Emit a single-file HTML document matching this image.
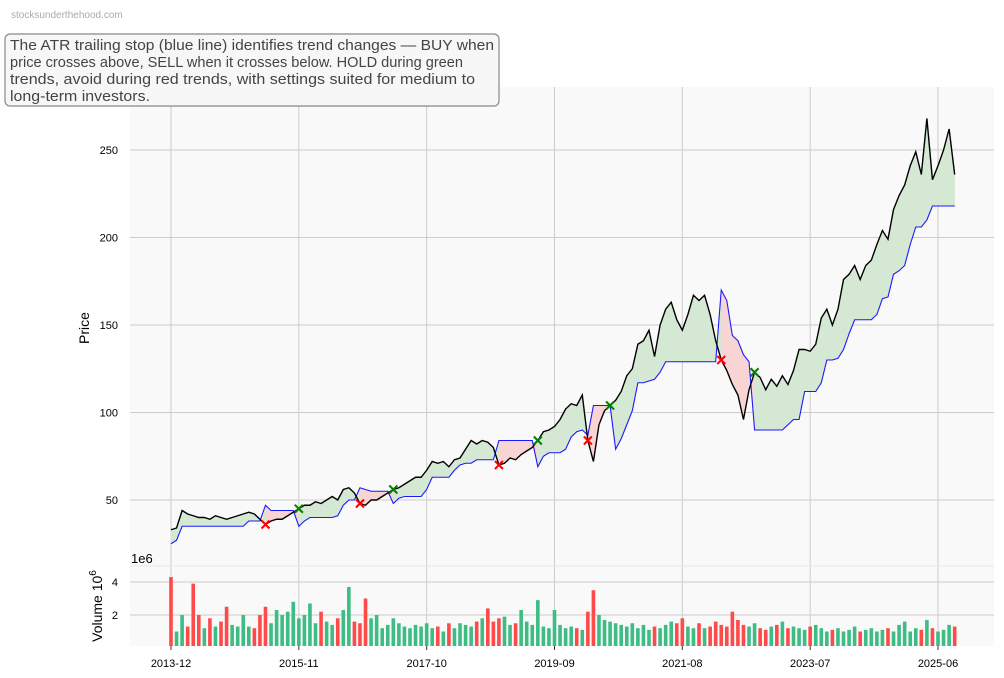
<!DOCTYPE html>
<html><head><meta charset="utf-8"><style>
body{margin:0;background:#fff;}
svg{display:block;font-family:"Liberation Sans","DejaVu Sans",sans-serif;}
</style></head><body>
<svg id="c" width="1004" height="678" viewBox="0 0 1004 678">
<text x="11" y="18" font-size="10" fill="#aaa">stocksunderthehood.com</text>
<rect x="130" y="87" width="864" height="479" fill="#f9f9f9"/>
<rect x="130" y="566" width="864" height="80" fill="#f9f9f9"/>
<g id="grid"></g><g id="fills"></g><g id="lines"></g><g id="marks"></g><g id="vol"></g><g id="axes"></g>
<text transform="translate(89,328) rotate(-90)" font-size="14" text-anchor="middle" fill="#000">Price</text>
<text transform="translate(102,606) rotate(-90)" font-size="14" text-anchor="middle" fill="#000">Volume  10<tspan dy="-6" font-size="10">6</tspan></text>
<text x="131" y="563" font-size="13" fill="#000">1e6</text>
<g>
<rect x="5" y="34" width="494" height="72" rx="5" fill="#f7f7f7" stroke="#888" stroke-width="1.2"/>
<text x="10" y="50" font-size="15" fill="#444" textLength="484" lengthAdjust="spacingAndGlyphs">The ATR trailing stop (blue line) identifies trend changes — BUY when</text>
<text x="10" y="67" font-size="15" fill="#444" textLength="453" lengthAdjust="spacingAndGlyphs">price crosses above, SELL when it crosses below. HOLD during green</text>
<text x="10" y="84" font-size="15" fill="#444" textLength="465" lengthAdjust="spacingAndGlyphs">trends, avoid during red trends, with settings suited for medium to</text>
<text x="10" y="101" font-size="15" fill="#444" textLength="140" lengthAdjust="spacingAndGlyphs">long-term investors.</text>
</g>
</svg>
<script>
const price=[33,34,44,42,41,40,40,39,41,40,39,40,41,42,43,42,39,36,38,39,39,41,43,45,
47,47,49,48,50,52,50,56,57,54,48,47,50,50,52,54,56,57,59,61,63,63,67,72,
71,72,69,73,74,79,84,82,84,83,80,70,71,74,73,76,78,80,84,89,90,92,96,102,
105,104,110,84,72,93,101,104,107,112,121,125,139,141,147,132,150,159,163,153,147,156,167,164,
167,156,141,130,124,116,110,96,113,123,120,113,119,115,121,116,124,136,136,135,139,154,159,150,
159,176,179,184,176,184,187,196,204,199,216,224,230,241,249,236,268,233,241,250,262,236];
const stop=[25,27,35,35,35,35,35,35,35,35,35,35,35,35,38,38,38,47,44,44,44,44,44,35,
38,40,40,40,40,40,41,47,50,50,57,56,55,55,55,55,48,51,52,52,52,52,56,63,
63,63,63,67,70,71,71,73,73,73,73,84,84,84,84,84,84,84,69,75,77,77,77,79,
86,89,90,87,104,104,104,104,79,85,93,101,117,117,118,119,123,129,129,129,129,129,129,129,
129,129,129,170,164,144,141,133,129,90,90,90,90,90,90,93,96,96,112,112,112,117,130,130,
131,136,145,153,153,153,153,156,165,166,179,181,184,196,206,206,210,218,218,218,218,218];
const volume=[4.3,1.0,2.0,1.3,3.9,2.0,1.2,1.8,1.3,1.6,2.5,1.4,1.3,2.0,1.3,1.2,2.0,2.5,1.5,2.3,2.0,2.2,2.8,1.8,
2.0,2.7,1.5,2.2,1.6,1.4,1.8,2.3,3.7,1.6,1.5,3.0,1.8,2.0,1.2,1.4,1.8,1.5,1.3,1.2,1.4,1.3,1.5,1.2,
1.3,1.0,1.5,1.2,1.5,1.4,1.3,1.6,1.8,2.4,1.6,1.8,1.9,1.4,1.5,2.3,1.6,1.4,2.9,1.3,1.2,2.3,1.4,1.2,
1.3,1.2,1.1,2.2,3.5,2.0,1.7,1.6,1.5,1.4,1.3,1.5,1.2,1.4,1.1,1.3,1.2,1.4,1.6,1.5,1.8,1.3,1.2,1.5,
1.2,1.3,1.6,1.4,1.3,2.2,1.7,1.4,1.3,1.5,1.2,1.1,1.3,1.4,1.6,1.2,1.3,1.2,1.1,1.3,1.4,1.2,1.0,1.1,
1.2,1.0,1.1,1.3,1.0,1.1,1.2,1.0,1.1,1.2,1.0,1.4,1.6,1.0,1.2,1.1,1.7,1.2,1.0,1.1,1.4,1.3];
const xTickLabels=["2013-12","2015-11","2017-10","2019-09","2021-08","2023-07","2025-06"];
const xTickMonths=[0,23,46,69,92,115,138];
const yTicks=[50,100,150,200,250];
const volTicks=[2,4];

const NS="http://www.w3.org/2000/svg";
function mk(tag,attrs,parent){const e=document.createElementNS(NS,tag);for(const k in attrs)e.setAttribute(k,attrs[k]);parent.appendChild(e);return e;}
const X=i=>171+i*5.558;
const Y=v=>500-(v-50)*1.75;
const VY=v=>Math.min(646,648-v*16.5);
const grid=document.getElementById('grid'),fills=document.getElementById('fills'),lines=document.getElementById('lines'),marks=document.getElementById('marks'),vol=document.getElementById('vol'),axes=document.getElementById('axes');

xTickMonths.forEach((m,k)=>{
  const x=X(m);
  const g1=mk('line',{x1:x,x2:x,y1:87,y2:646,stroke:'#cccccc','stroke-width':1},grid);
  
  
  const t=mk('line',{x1:x,x2:x,y1:646,y2:650,stroke:'#333'},axes);
  
  
  const lb=mk('text',{x:x,y:667,'font-size':11,'text-anchor':'middle',fill:'#000'},axes);
  lb.textContent=xTickLabels[k];
  
  
});
yTicks.forEach(v=>{
  const y=Y(v);
  const g=mk('line',{x1:130,x2:994,y1:y,y2:y,stroke:'#cccccc'},grid);
  
  
  const lb=mk('text',{x:118,y:y+4,'font-size':11,'text-anchor':'end',fill:'#000'},axes);
  lb.textContent=v;
  
  
});
volTicks.forEach(v=>{
  const y=VY(v);
  const g=mk('line',{x1:130,x2:994,y1:y,y2:y,stroke:'#cccccc'},grid);
  
  
  const lb=mk('text',{x:118,y:y+4,'font-size':11,'text-anchor':'end',fill:'#000'},axes);
  lb.textContent=v;
  
  
});
mk('line',{x1:130,x2:994,y1:566,y2:566,stroke:'#e8e8e8'},grid);

for(let i=0;i<price.length-1;i++){
  const up=price[i]>=stop[i];
  const col=up?'#d4e8d4':'#f9d4d4';
  const p=mk('polygon',{points:`${X(i)},${Y(price[i])} ${X(i+1)},${Y(price[i+1])} ${X(i+1)},${Y(stop[i+1])} ${X(i)},${Y(stop[i])}`,fill:col,stroke:col,'stroke-width':0.6},fills);
  
  
}
const sl=mk('polyline',{points:stop.map((v,i)=>X(i)+','+Y(v)).join(' '),fill:'none',stroke:'#1a1aff','stroke-width':1.1},lines);


const pl=mk('polyline',{points:price.map((v,i)=>X(i)+','+Y(v)).join(' '),fill:'none',stroke:'#000','stroke-width':1.4},lines);



for(let i=1;i<price.length;i++){
  const a=price[i-1]>=stop[i-1],b=price[i]>=stop[i];
  if(a!==b){
    const x=X(i),y=Y(price[i]),s=4,col=b?'#008000':'#ff0000';
    const g=mk('g',{},marks);
    
    
    mk('line',{x1:x-s,y1:y-s,x2:x+s,y2:y+s,stroke:col,'stroke-width':2},g);
    mk('line',{x1:x-s,y1:y+s,x2:x+s,y2:y-s,stroke:col,'stroke-width':2},g);
  }
}
volume.forEach((v,i)=>{
  const up=i===0?false:price[i]>=price[i-1];
  const r=mk('rect',{x:X(i)-1.8,y:VY(v),width:3.6,height:646-VY(v),fill:up?'#3dbd84':'#ff4a4a'},vol);
  
  
});
</script>
</body></html>
